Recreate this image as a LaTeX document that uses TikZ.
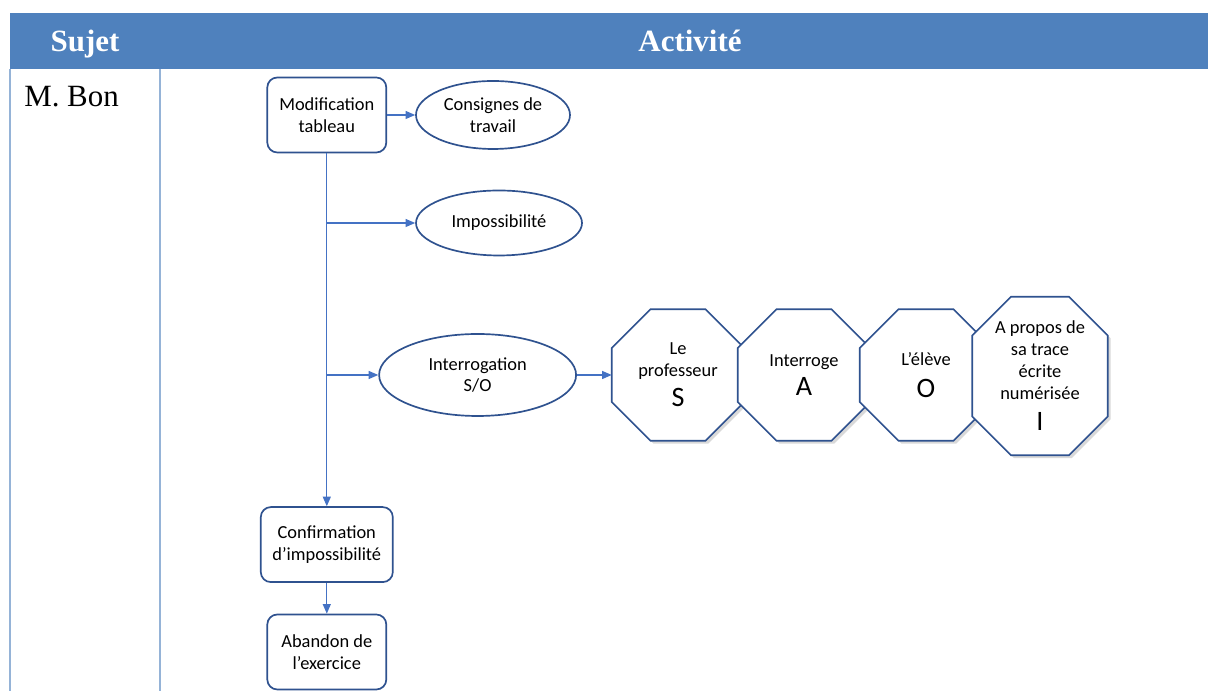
\documentclass[tikz,border=0pt]{standalone}
\usepackage{fontspec}
\setmainfont{Liberation Serif}
\newfontfamily\calib{Carlito}
\usepackage{xcolor}
\usetikzlibrary{arrows.meta,shapes.geometric,shadows,backgrounds}
\definecolor{ACHead}{HTML}{4F81BD}
\definecolor{ACGrid}{HTML}{95B3D7}
\definecolor{ACLink}{HTML}{4472C4}
\definecolor{ACEdge}{HTML}{2F528F}
\newcommand{\acbig}[1]{{\fontsize{20}{24}\selectfont #1}}
% octagon drawn round a named node, cut by #2 at every corner
\newcommand{\acoct}[2]{%
  \filldraw[octline] ([xshift=#2]#1.north west) -- ([xshift=-#2]#1.north east)
    -- ([yshift=-#2]#1.north east) -- ([yshift=#2]#1.south east)
    -- ([xshift=-#2]#1.south east) -- ([xshift=#2]#1.south west)
    -- ([yshift=#2]#1.south west) -- ([yshift=-#2]#1.north west) -- cycle;}

\begin{document}
\begin{tikzpicture}[x=1cm,y=1cm,
  boxnode/.style={draw=ACEdge,line width=1.2pt,rounded corners=0.25cm,fill=white,align=center,
    inner sep=1pt,font=\calib\fontsize{13.1}{15.5}\selectfont},
  ovalnode/.style={ellipse,draw=ACEdge,line width=1.2pt,fill=white,align=center,
    inner sep=1pt,font=\calib\fontsize{13.1}{15.5}\selectfont},
  octnode/.style={rectangle,align=center,inner sep=1pt,font=\calib\fontsize{13.1}{15.5}\selectfont},
  octline/.style={draw=ACEdge,line width=1.2pt,fill=white,
    drop shadow={shadow xshift=2pt,shadow yshift=-2pt,opacity=0.3}},
  link/.style={ACLink,line width=0.8pt,-{Triangle[length=2.4mm,width=2mm]}}]
\path[use as bounding box] (0,0) rectangle (30.20,17.275);
\fill[ACHead] (0.25,15.55) rectangle (30.20,16.95);
\draw[ACGrid,line width=1pt] (0.25,15.55) -- (0.25,0);
\draw[ACGrid,line width=1pt] (4.00,15.55) -- (4.00,0);
\node[anchor=base,text=white,font=\bfseries\fontsize{22}{26}\selectfont] (hsujet) at (2.125,15.98) {Sujet};
\node[anchor=base,text=white,font=\bfseries\fontsize{22}{26}\selectfont] (hactiv) at (17.25,15.98) {Activité};
\node[anchor=base west,inner sep=0pt,font=\fontsize{22}{26}\selectfont] (sujet) at (0.60,14.60) {M. Bon};

\node[boxnode,minimum width=2.975cm,minimum height=1.875cm] (modif) at (8.17,14.40) {Modification\\tableau};
\node[ovalnode,minimum width=3.85cm,minimum height=1.70cm] (consignes) at (12.325,14.40) {Consignes de\\travail};
\node[ovalnode,minimum width=4.15cm,minimum height=1.625cm] (impossib) at (12.475,11.70) {Impossibilité};
\node[ovalnode,minimum width=4.925cm,minimum height=2.05cm] (interro) at (11.94,7.90) {Interrogation\\S/O};
\node[octnode,minimum width=3.30cm,minimum height=3.275cm] (octS) at (16.95,7.90) {Le\\professeur\\[6pt]\acbig{S}};
\node[octnode,minimum width=3.30cm,minimum height=3.275cm] (octA) at (20.10,7.90) {Interroge\\[5.6pt]\acbig{A}};
\node[octnode,minimum width=3.30cm,minimum height=3.275cm] (octO) at (23.15,7.90) {L’élève\\[7.3pt]\acbig{O}};
\node[octnode,minimum width=3.375cm,minimum height=3.95cm] (octI) at (26.00,7.875) {A propos de\\sa trace\\écrite\\numérisée\\[7pt]\acbig{I}};
\begin{scope}[on background layer]
\acoct{octS}{0.97cm}
\acoct{octA}{0.97cm}
\acoct{octO}{0.97cm}
\acoct{octI}{0.97cm}
\end{scope}
\node[boxnode,minimum width=3.30cm,minimum height=1.875cm] (confirm) at (8.17,3.66) {Confirmation\\d’impossibilité};
\node[boxnode,minimum width=2.975cm,minimum height=1.875cm] (abandon) at (8.17,0.975) {Abandon de\\l’exercice};

\coordinate (fork1) at (8.17,11.70);
\coordinate (fork2) at (8.17,7.90);
\draw[link] (modif) -- (consignes);
\draw[link] (modif) -- (confirm);
\draw[link] (fork1) -- (impossib);
\draw[link] (fork2) -- (interro);
\draw[link] (interro) -- (octS);
\draw[link] (confirm) -- (abandon);
\end{tikzpicture}
\end{document}
